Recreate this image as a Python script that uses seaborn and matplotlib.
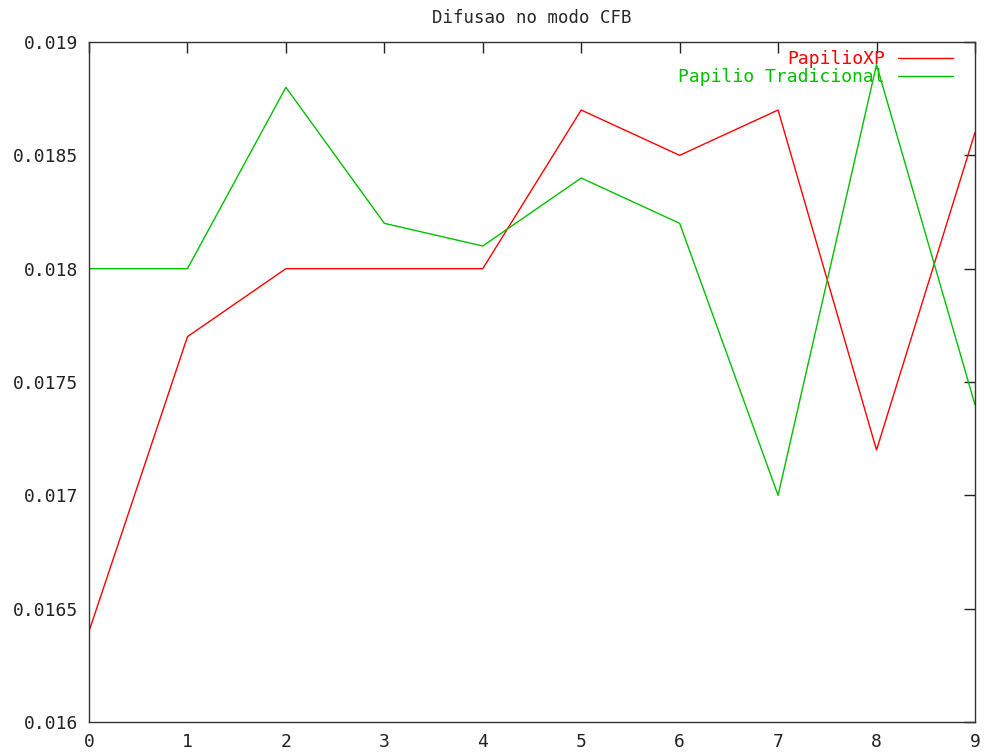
import matplotlib
matplotlib.use("Agg")
import matplotlib.pyplot as plt
import seaborn as sns
import numpy as np

# data
x_vals = [0, 1, 2, 3, 4, 5, 6, 7, 8, 9]
papilio_xp = [0.0164, 0.0177, 0.0180, 0.0180, 0.0180, 0.0187, 0.0185, 0.0187, 0.0172, 0.0186]
papilio_trad = [0.0180, 0.0180, 0.0188, 0.0182, 0.0181, 0.0184, 0.0182, 0.0170, 0.0189, 0.0174]
y_ticks = [0.016, 0.0165, 0.017, 0.0175, 0.018, 0.0185, 0.019]
y_labels = ["0.016", "0.0165", "0.017", "0.0175", "0.018", "0.0185", "0.019"]

sns.set_style("white")
plt.rcParams['font.family'] = ['DejaVu Sans Mono']

fig = plt.figure(figsize=(9.87, 7.53), dpi=100)
ax = fig.add_axes([0.0902, 0.0412, 0.8976, 0.903])

sns.lineplot(x=x_vals, y=papilio_xp, color='#ff0000', linewidth=1.0, label='PapilioXP', ax=ax)
sns.lineplot(x=x_vals, y=papilio_trad, color='#00c000', linewidth=1.0, label='Papilio Tradicional', ax=ax)

ax.set_xlim(0, 9)
ax.set_ylim(0.016, 0.019)
ax.set_xticks(x_vals)
ax.set_yticks(y_ticks)
ax.set_yticklabels(y_labels)
ax.tick_params(direction='in', length=8, width=1, top=True, right=True,
               labelsize=13, colors='#222222')
ax.tick_params(axis='y', pad=8)
ax.tick_params(axis='x', pad=8)
for s in ax.spines.values():
    s.set_color('#333333')
    s.set_linewidth(1)
ax.set_title('Difusao no modo CFB', fontsize=12.5, pad=14)

leg = ax.legend(loc='upper right', bbox_to_anchor=(0.975, 0.9885), frameon=False,
                markerfirst=False, fontsize=13, handlelength=3.05, labelspacing=0.0,
                borderaxespad=0, borderpad=0, handletextpad=0.7, labelcolor='linecolor')
for t in leg.get_texts():
    t.set_ha('right')

fig.savefig('out.png', dpi=100)
plt.close(fig)
